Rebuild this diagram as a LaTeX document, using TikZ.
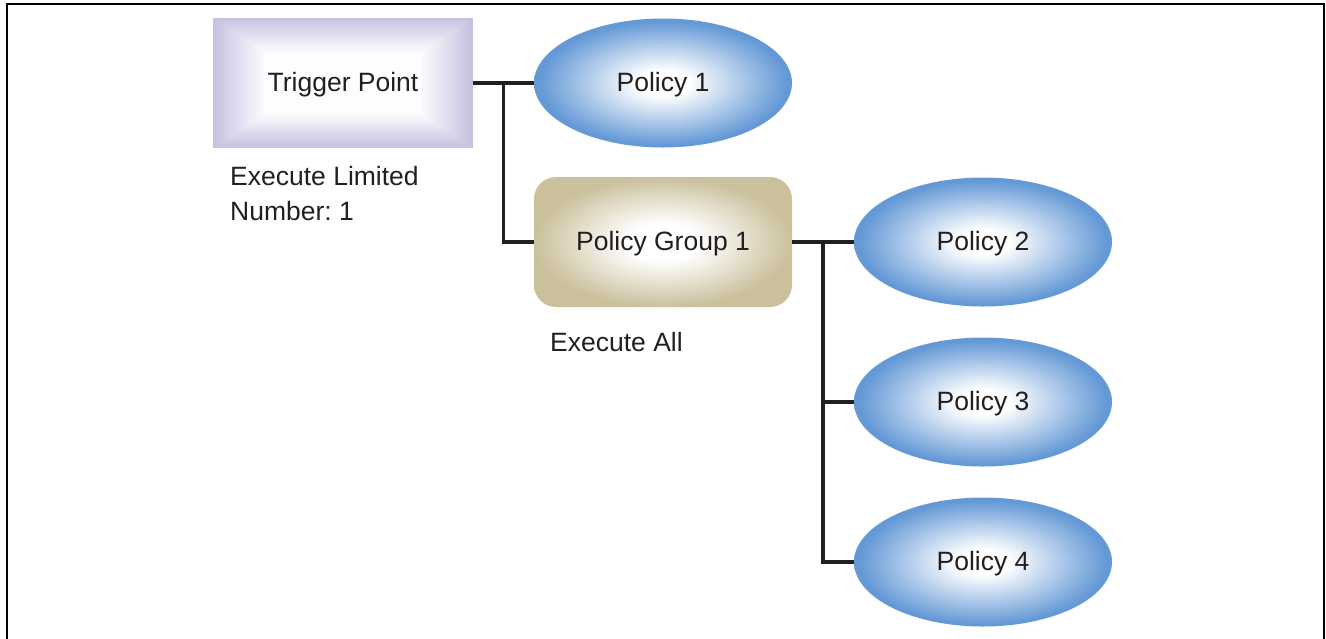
\documentclass[tikz,border=0pt]{standalone}
\usepackage{fontspec}
\setmainfont{Liberation Sans}
\usepackage{xcolor}
\usepackage{tikz}
\usetikzlibrary{
	positioning,      % posizionamento relativo
	shapes.geometric, % per le ellissi
	calc              % per i punti di diramazione
}
\frenchspacing

\definecolor{polblue}{RGB}{100,153,214}
\definecolor{triglav}{RGB}{198,194,226}
\definecolor{grptan}{RGB}{203,192,156}
\definecolor{txtgray}{RGB}{35,31,32}

% sfumature radiali (centro bianco, bordo a 25bp)
\pgfdeclareradialshading{policyshade}{\pgfpoint{0bp}{0bp}}{color(0bp)=(white); color(5bp)=(white); color(24bp)=(polblue); color(50bp)=(polblue)}
\pgfdeclareradialshading{groupshade}{\pgfpoint{0bp}{0bp}}{color(0bp)=(white); color(7bp)=(white); color(25bp)=(grptan); color(50bp)=(grptan)}

\begin{document}
\begin{tikzpicture}[
		x=1pt, y=-1pt,
		every node/.style={font=\fontsize{26.5}{35}\selectfont, text=txtgray},
		box/.style={inner sep=0pt, text height=16pt, text depth=0pt},
		policy/.style={box, ellipse, minimum width=258pt, minimum height=129pt, shade, shading=policyshade},
		group/.style={box, rectangle, rounded corners=22pt, minimum width=258pt, minimum height=130pt, shade, shading=groupshade},
		trigger/.style={box, rectangle, minimum width=260pt, minimum height=130pt, fill=triglav,
			path picture={
				\foreach \k [evaluate=\k as \pct using int(100-6*\k)] in {0,...,16}
				\fill[triglav!\pct!white]
				($(path picture bounding box.north west)+({3.2pt*\k},{-2.1pt*\k})$) rectangle
				($(path picture bounding box.south east)+({-3.2pt*\k},{2.1pt*\k})$);
			}},
		note/.style={inner sep=0pt, align=left},
		link/.style={draw=txtgray, line width=3.5pt}
	]
	
	\useasboundingbox (0,0) rectangle (1326,638);
	
	% --- Cornice ---
	\draw[line width=2.5pt] (7,640) -- (7,4) -- (1324,4) -- (1324,640);
	
	% --- Nodi ---
	\node[trigger] (tp) at (343,83) {Trigger Point};
	\node[policy] (p1) at (663,83) {Policy 1};
	\node[group] (pg) at (663,242) {Policy Group 1};
	\node[policy] (p2) at (983,242) {Policy 2};
	\node[policy] (p3) at (983,402) {Policy 3};
	\node[policy] (p4) at (983,562) {Policy 4};
	
	% --- Note ---
	\node[note, anchor=north west] (limit) at (230,166) {Execute Limited\\Number: 1};
	\node[note, anchor=west] (all) at (550,342) {Execute All};
	
	% --- Collegamenti ---
	\draw[link] (tp.east) -- (p1.west);
	\draw[link] ($(tp.east)!0.5!(p1.west)$) |- (pg.west);
	
	\draw[link] (pg.east) -- (p2.west);
	\coordinate (fork) at ($(pg.east)!0.5!(p2.west)$);
	\draw[link] (fork) |- (p3.west);
	\draw[link] (fork) |- (p4.west);
\end{tikzpicture}
\end{document}
